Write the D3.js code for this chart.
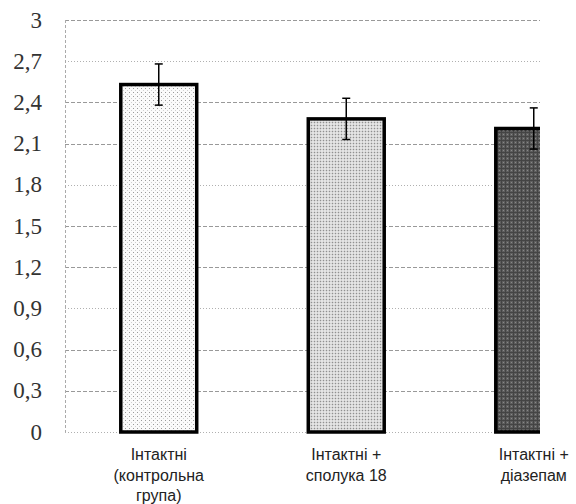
<!DOCTYPE html>
<html>
<head>
<meta charset="utf-8">
<script src="https://cdn.jsdelivr.net/npm/d3@7/dist/d3.min.js"></script>
<style>
  body { margin: 0; background: #fff; }
  svg text.ylab { font-family: "Times New Roman", "Liberation Serif", "DejaVu Serif", serif !important; }
</style>
</head>
<body>
<div id="chart"></div>
<script>
// chart data
var groups = [
  ["Інтактні", "(контрольна", "група)"],
  ["Інтактні +", "сполука 18"],
  ["Інтактні +", "діазепам"]
];
var values = [2.53, 2.28, 2.21];
var errors = [0.15, 0.15, 0.15];
var yTicks = [0, 0.3, 0.6, 0.9, 1.2, 1.5, 1.8, 2.1, 2.4, 2.7, 3];
var fills = ["url(#dotsLight)", "url(#dotsGray)", "url(#checkDark)"];

var width = 576, height = 504;
var margins = { top: 20, right: 0, bottom: 72, left: 65 };
var clipRight = 540;
var chartHeight = height - margins.top - margins.bottom;

var svg = d3.select("#chart")
  .append("svg")
  .attr("width", width)
  .attr("height", height);

// Patterns for the bar fills
var defs = svg.append("defs");

var p1 = defs.append("pattern").attr("id", "dotsLight")
  .attr("patternUnits", "userSpaceOnUse").attr("width", 4).attr("height", 4);
p1.append("rect").attr("width", 4).attr("height", 4).attr("fill", "#fbfbfb");
p1.append("rect").attr("x", 0).attr("y", 0).attr("width", 1).attr("height", 1).attr("fill", "#9a9a9a");
p1.append("rect").attr("x", 2).attr("y", 2).attr("width", 1).attr("height", 1).attr("fill", "#d0d0d0");

var p2 = defs.append("pattern").attr("id", "dotsGray")
  .attr("patternUnits", "userSpaceOnUse").attr("width", 3).attr("height", 3);
p2.append("rect").attr("width", 3).attr("height", 3).attr("fill", "#d2d2d2");
p2.append("rect").attr("x", 0).attr("y", 0).attr("width", 1).attr("height", 1).attr("fill", "#909090");
p2.append("rect").attr("x", 1).attr("y", 1).attr("width", 2).attr("height", 2).attr("fill", "#e4e4e4");

var p3 = defs.append("pattern").attr("id", "checkDark")
  .attr("patternUnits", "userSpaceOnUse").attr("width", 4).attr("height", 4);
p3.append("rect").attr("width", 4).attr("height", 4).attr("fill", "#5e5e5e");
p3.append("rect").attr("x", 0).attr("y", 0).attr("width", 1).attr("height", 4).attr("fill", "#444");
p3.append("rect").attr("x", 0).attr("y", 0).attr("width", 4).attr("height", 1).attr("fill", "#444");
p3.append("rect").attr("x", 2).attr("y", 2).attr("width", 1).attr("height", 1).attr("fill", "#888");

defs.append("clipPath").attr("id", "plotClip")
  .append("rect")
  .attr("x", 0).attr("y", -10)
  .attr("width", clipRight - margins.left).attr("height", chartHeight + 20);

var chartElement = svg.append("g")
  .attr("transform", `translate(${margins.left},${margins.top})`);

// Scales
var xScale = d3.scaleBand()
  .domain(d3.range(groups.length))
  .range([0, 562.5])
  .paddingInner(0.595)
  .paddingOuter(0.2975);

var yScale = d3.scaleLinear()
  .domain([0, 3])
  .range([chartHeight, 0]);

// Y axis labels, drawn as plain text at the scale's positions
chartElement.append("g")
  .attr("class", "ylabels")
  .selectAll("text")
  .data(yTicks)
  .enter()
  .append("text")
  .attr("class", "ylab")
  .attr("x", -23)
  .attr("y", d => yScale(d))
  .attr("dy", "0.33em")
  .attr("text-anchor", "end")
  .attr("font-size", 23)
  .attr("fill", "#333")
  .text(d => String(d).replace(".", ","));

var plot = chartElement.append("g").attr("clip-path", "url(#plotClip)");

// Grid
plot.append("g")
  .attr("class", "grid")
  .selectAll("line")
  .data(yTicks)
  .enter()
  .append("line")
  .attr("x1", 0)
  .attr("x2", clipRight - margins.left)
  .attr("y1", d => Math.round(yScale(d)) + 0.5)
  .attr("y2", d => Math.round(yScale(d)) + 0.5)
  .attr("stroke", (d, i) => i % 3 == 0 ? "#b0b0b0" : "#999")
  .attr("stroke-dasharray", (d, i) => i % 3 == 0 ? "1,2" : "4,2");

// left axis line
chartElement.append("line")
  .attr("x1", 0.5).attr("x2", 0.5)
  .attr("y1", 0).attr("y2", chartHeight)
  .attr("stroke", "#aaa")
  .attr("stroke-dasharray", "3,2");

// Bars
plot.append("g")
  .attr("class", "bars")
  .selectAll("rect")
  .data(values)
  .enter()
  .append("rect")
  .attr("x", (d, i) => xScale(i))
  .attr("y", d => yScale(d))
  .attr("width", xScale.bandwidth())
  .attr("height", d => yScale(0) - yScale(d))
  .attr("fill", (d, i) => fills[i])
  .attr("stroke", "#000")
  .attr("stroke-width", 3.5);

// Error bars
var errG = plot.append("g").attr("class", "errors")
  .selectAll("g")
  .data(values)
  .enter()
  .append("g")
  .attr("stroke", "#000")
  .attr("stroke-width", 1.5);

var cx = i => xScale(i) + xScale.bandwidth() / 2;

errG.append("line")
  .attr("x1", (d, i) => cx(i)).attr("x2", (d, i) => cx(i))
  .attr("y1", (d, i) => yScale(d + errors[i]))
  .attr("y2", (d, i) => yScale(d - errors[i]));
errG.append("line")
  .attr("x1", (d, i) => cx(i) - 4).attr("x2", (d, i) => cx(i) + 4)
  .attr("y1", (d, i) => yScale(d + errors[i]))
  .attr("y2", (d, i) => yScale(d + errors[i]));
errG.append("line")
  .attr("x1", (d, i) => cx(i) - 4).attr("x2", (d, i) => cx(i) + 4)
  .attr("y1", (d, i) => yScale(d - errors[i]))
  .attr("y2", (d, i) => yScale(d - errors[i]));

// X labels
var labels = chartElement.append("g")
  .attr("font-family", "Liberation Sans, Arial, sans-serif")
  .attr("font-size", 16)
  .attr("fill", "#222")
  .selectAll("text")
  .data(groups)
  .enter()
  .append("text")
  .attr("text-anchor", "middle")
  .attr("x", (d, i) => cx(i))
  .attr("y", chartHeight + 28);

labels.selectAll("tspan")
  .data(d => d)
  .enter()
  .append("tspan")
  .attr("x", function() { return d3.select(this.parentNode).attr("x"); })
  .attr("dy", (d, i) => i == 0 ? 0 : 20.5)
  .text(d => d);
</script>
</body>
</html>
